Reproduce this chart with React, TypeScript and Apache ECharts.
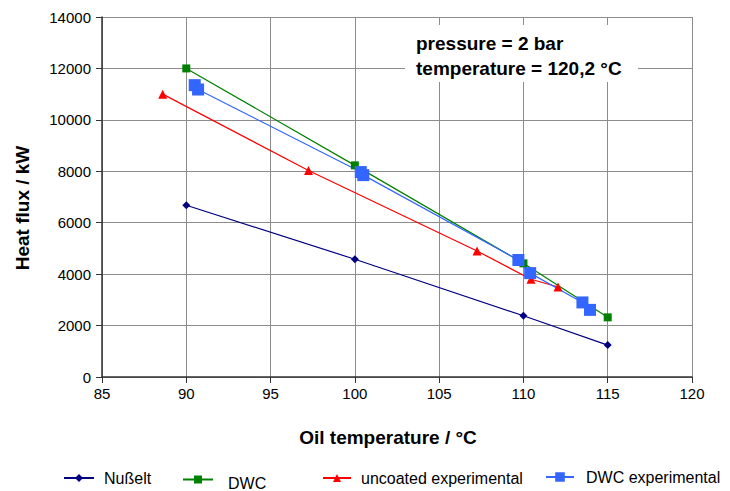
import React, { useEffect, useRef } from "react";
import * as echarts from "echarts";

const nusseltData: [number, number][] = [
  [90, 6680],
  [100, 4580],
  [110, 2380],
  [115, 1240],
];
const dwcData: [number, number][] = [
  [90, 12000],
  [100, 8230],
  [110, 4420],
  [115, 2320],
];
const uncoatedData: [number, number][] = [
  [88.6, 11000],
  [97.25, 8030],
  [107.25, 4900],
  [110.45, 3800],
  [112.05, 3500],
];
const dwcExpData: [number, number][] = [
  [90.5, 11350],
  [90.7, 11180],
  [100.35, 7970],
  [100.5, 7850],
  [109.7, 4550],
  [110.4, 4040],
  [113.5, 2900],
  [113.95, 2610],
];

const FONT = "'Liberation Sans', Arial, sans-serif";

export default function App() {
  const ref = useRef<HTMLDivElement>(null);
  useEffect(() => {
    if (!ref.current) return;
    const chart = echarts.init(ref.current, undefined, { renderer: "svg" });
    const lt = (padding: number[]) => ({
      fontFamily: FONT,
      fontSize: 16,
      color: "#000",
      padding,
    });
    chart.setOption({
      animation: false,
      backgroundColor: "#fff",
      textStyle: { fontFamily: FONT },
      grid: { left: 102, right: 38, top: 17, bottom: 114 },
      xAxis: {
        type: "value",
        min: 85,
        max: 120,
        interval: 5,
        name: "Oil temperature / °C",
        nameLocation: "middle",
        nameGap: 51,
        nameTextStyle: {
          fontFamily: FONT,
          fontSize: 19,
          fontWeight: "bold",
          color: "#000",
          padding: [0, 18, 0, 0],
        },
        axisLine: { show: true, lineStyle: { color: "#333", width: 1.5 } },
        axisTick: { show: true, inside: false, length: 6, lineStyle: { color: "#333" } },
        axisLabel: { fontFamily: FONT, fontSize: 15, color: "#000", margin: 9 },
        splitLine: { show: true, lineStyle: { color: "#8c8c8c", width: 1 } },
      },
      yAxis: {
        type: "value",
        min: 0,
        max: 14000,
        interval: 2000,
        axisLine: { show: true, lineStyle: { color: "#333", width: 1.5 } },
        axisTick: { show: true, inside: false, length: 6, lineStyle: { color: "#333" } },
        axisLabel: {
          fontFamily: FONT,
          fontSize: 15,
          color: "#000",
          margin: 11,
          formatter: (v: number) => String(v),
        },
        splitLine: { show: true, lineStyle: { color: "#8c8c8c", width: 1 } },
      },
      legend: [
        {
          data: ["Nußelt"],
          left: 63,
          top: 470,
          padding: 0,
          itemWidth: 30,
          itemHeight: 10,
          textStyle: lt([0, 0, 0, 5]),
        },
        {
          data: ["DWC"],
          left: 182,
          top: 466,
          padding: 0,
          itemWidth: 30,
          itemHeight: 10,
          formatter: (name: string) => `{p| }\n{t|${name}}`,
          textStyle: {
            fontFamily: FONT,
            fontSize: 16,
            color: "#000",
            padding: [0, 0, 0, 10],
            rich: {
              p: { fontSize: 8, lineHeight: 8, height: 8 },
              t: { fontFamily: FONT, fontSize: 16, lineHeight: 19, color: "#000" },
            },
          },
        },
        {
          data: ["uncoated experimental"],
          left: 322,
          top: 470,
          padding: 0,
          itemWidth: 28,
          itemHeight: 10,
          textStyle: lt([0, 0, 2, 5]),
        },
        {
          data: ["DWC experimental"],
          left: 545,
          top: 469,
          padding: 0,
          itemWidth: 28,
          itemHeight: 12,
          textStyle: lt([0, 0, 0, 7]),
        },
      ],
      graphic: [
        {
          type: "text",
          x: 22,
          y: 208,
          rotation: Math.PI / 2,
          style: {
            text: "Heat flux / kW",
            font: `bold 19px ${FONT}`,
            fill: "#000",
            align: "center",
            verticalAlign: "middle",
          },
        },
        {
          type: "rect",
          z: 100,
          shape: { x: 405, y: 25, width: 233, height: 57 },
          style: { fill: "#fff" },
        },
        {
          type: "text",
          z: 101,
          x: 416,
          y: 34,
          style: {
            text: "pressure = 2 bar",
            font: `bold 19px ${FONT}`,
            fill: "#000",
          },
        },
        {
          type: "text",
          z: 101,
          x: 416,
          y: 59,
          style: {
            text: "temperature = 120,2 °C",
            font: `bold 19px ${FONT}`,
            fill: "#000",
          },
        },
      ],
      series: [
        {
          name: "Nußelt",
          type: "line",
          data: nusseltData,
          symbol: "diamond",
          symbolSize: 8,
          lineStyle: { color: "#000080", width: 1.2 },
          itemStyle: { color: "#000080" },
        },
        {
          name: "DWC",
          type: "line",
          data: dwcData,
          symbol: "rect",
          symbolSize: 8,
          lineStyle: { color: "#008000", width: 1.2 },
          itemStyle: { color: "#008000" },
        },
        {
          name: "uncoated experimental",
          type: "line",
          data: uncoatedData,
          symbol: "triangle",
          symbolSize: 9,
          lineStyle: { color: "#ff0000", width: 1.2 },
          itemStyle: { color: "#ff0000" },
        },
        {
          name: "DWC experimental",
          type: "line",
          data: dwcExpData,
          symbol: "rect",
          symbolSize: 12,
          lineStyle: { color: "#3366ff", width: 1.2 },
          itemStyle: { color: "#3366ff" },
        },
      ],
    });
    return () => chart.dispose();
  }, []);
  return <div ref={ref} style={{ width: 730, height: 491, position: "absolute", left: 0, top: 0 }} />;
}
